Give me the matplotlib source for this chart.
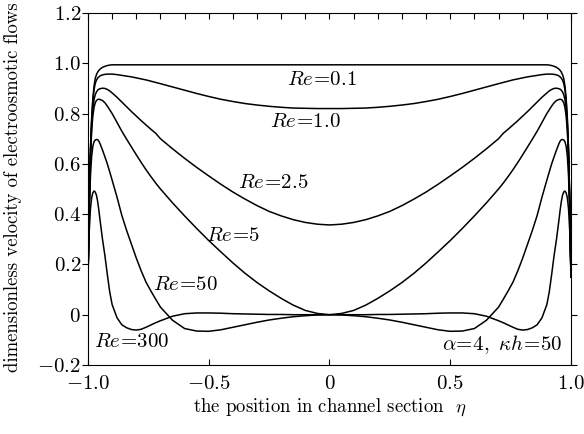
import numpy as np
import matplotlib
matplotlib.use('Agg')
import matplotlib.pyplot as plt
from matplotlib.ticker import MultipleLocator

plt.rcParams['font.family'] = 'cmr10'
plt.rcParams['mathtext.fontset'] = 'cm'
plt.rcParams['axes.formatter.use_mathtext'] = True

# left half of the channel (profiles are symmetric about eta = 0)
eta_half = [-1.0, -0.995, -0.99, -0.985, -0.98, -0.975, -0.97, -0.965, -0.96, -0.955,
            -0.95, -0.94, -0.93, -0.92, -0.91, -0.9, -0.88, -0.86, -0.84, -0.82,
            -0.8, -0.78, -0.76, -0.74, -0.72, -0.7, -0.65, -0.6, -0.55, -0.5,
            -0.45, -0.4, -0.35, -0.3, -0.25, -0.2, -0.15, -0.1, -0.05, 0.0]

u_re01 = [0.15, 0.45, 0.66, 0.78, 0.86, 0.91, 0.94, 0.955, 0.965, 0.972,
          0.977, 0.984, 0.988, 0.991, 0.993, 0.994, 0.994, 0.994, 0.994, 0.994,
          0.994, 0.994, 0.994, 0.994, 0.994, 0.994, 0.994, 0.994, 0.994, 0.994,
          0.994, 0.994, 0.994, 0.994, 0.994, 0.994, 0.994, 0.994, 0.994, 0.994]
u_re1 = [0.15, 0.45, 0.65, 0.77, 0.85, 0.895, 0.92, 0.933, 0.941, 0.946,
         0.95, 0.954, 0.956, 0.957, 0.957, 0.957, 0.955, 0.952, 0.949, 0.946,
         0.942, 0.938, 0.934, 0.929, 0.924, 0.919, 0.906, 0.893, 0.88, 0.868,
         0.857, 0.848, 0.84, 0.834, 0.829, 0.825, 0.822, 0.821, 0.82, 0.82]
u_re25 = [0.15, 0.44, 0.63, 0.75, 0.82, 0.855, 0.875, 0.886, 0.893, 0.897,
          0.899, 0.901, 0.9, 0.896, 0.89, 0.882, 0.865, 0.846, 0.827, 0.808,
          0.79, 0.772, 0.755, 0.738, 0.722, 0.7, 0.66, 0.622, 0.586, 0.552,
          0.519, 0.488, 0.46, 0.434, 0.411, 0.393, 0.378, 0.367, 0.36, 0.357]
u_re5 = [0.15, 0.43, 0.62, 0.73, 0.79, 0.825, 0.843, 0.852, 0.856, 0.857,
         0.856, 0.852, 0.843, 0.83, 0.815, 0.8, 0.765, 0.73, 0.698, 0.667,
         0.636, 0.606, 0.577, 0.55, 0.524, 0.5, 0.445, 0.393, 0.343, 0.295,
         0.25, 0.206, 0.165, 0.128, 0.095, 0.065, 0.038, 0.017, 0.005, 0.0]
u_re50 = [0.15, 0.4, 0.55, 0.63, 0.67, 0.688, 0.695, 0.697, 0.696, 0.69,
          0.68, 0.655, 0.628, 0.6, 0.568, 0.535, 0.468, 0.395, 0.335, 0.28,
          0.225, 0.175, 0.13, 0.095, 0.062, 0.03, -0.022, -0.055, -0.065, -0.066,
          -0.06, -0.05, -0.04, -0.03, -0.021, -0.014, -0.008, -0.004, -0.001, 0.0]
u_re300 = [0.15, 0.33, 0.42, 0.465, 0.485, 0.492, 0.488, 0.475, 0.45, 0.415,
           0.375, 0.3, 0.235, 0.16, 0.09, 0.04, -0.012, -0.04, -0.052, -0.059,
           -0.061, -0.058, -0.05, -0.041, -0.032, -0.024, -0.006, 0.004, 0.007, 0.007,
           0.006, 0.004, 0.003, 0.002, 0.001, 0.001, 0.0, 0.0, 0.0, 0.0]

curve_labels = [r'$Re\!=\!0.1$', r'$Re\!=\!1.0$', r'$Re\!=\!2.5$',
                r'$Re\!=\!5$', r'$Re\!=\!50$', r'$Re\!=\!300$']
label_pos = [(-0.03, 0.933), (-0.10, 0.766), (-0.235, 0.524),
             (-0.40, 0.313), (-0.595, 0.118), (-0.82, -0.108)]

xticks = [-1.0, -0.5, 0.0, 0.5, 1.0]
xticklabels = [r'$-1.0$', r'$-0.5$', r'$0$', r'$0.5$', r'$1.0$']
yticks = [-0.2, 0.0, 0.2, 0.4, 0.6, 0.8, 1.0, 1.2]
yticklabels = [r'$-0.2$', r'$0$', r'$0.2$', r'$0.4$', r'$0.6$', r'$0.8$', r'$1.0$', r'$1.2$']


def full(profile):
    # mirror the half profile to the right wall
    p = np.array(profile)
    return np.concatenate([p, p[-2::-1]])


eta = np.concatenate([np.array(eta_half), -np.array(eta_half)[-2::-1]])

fig = plt.figure(figsize=(5.84, 4.34), dpi=100)
ax = fig.add_axes([0.1507, 0.159, 0.827, 0.811])

for u in [u_re01, u_re1, u_re25, u_re5, u_re50, u_re300]:
    ax.plot(eta, full(u), color='black', lw=1.1)

for txt, (x, y) in zip(curve_labels, label_pos):
    ax.text(x, y, txt, fontsize=15, ha='center', va='center')
ax.text(0.963, -0.12, r'$\alpha\!=\!4,\ \kappa h\!=\!50$', fontsize=15, ha='right', va='center')

ax.set_xlim(-1, 1)
ax.set_ylim(-0.2, 1.2)
ax.set_xticks(xticks)
ax.set_xticklabels(xticklabels)
ax.set_yticks(yticks)
ax.set_yticklabels(yticklabels)
ax.xaxis.set_minor_locator(MultipleLocator(0.1))
ax.tick_params(which='both', direction='in', length=4, width=0.8, labelsize=15,
               right=True, top=True, bottom=True)
ax.tick_params(which='minor', bottom=False)
ax.tick_params(axis='y', which='major', left=True, direction='out', length=4, pad=1)
ax.tick_params(axis='x', pad=7)

ax.set_xlabel(r'the position in channel section  $\eta$', fontsize=13.5, va='top')
ax.xaxis.set_label_coords(0.5, -0.09)
ax.set_ylabel('dimensionless velocity of electroosmotic flows', fontsize=13.5)
ax.yaxis.set_label_coords(-0.137, 0.505)

plt.savefig('out.png', dpi=100)
